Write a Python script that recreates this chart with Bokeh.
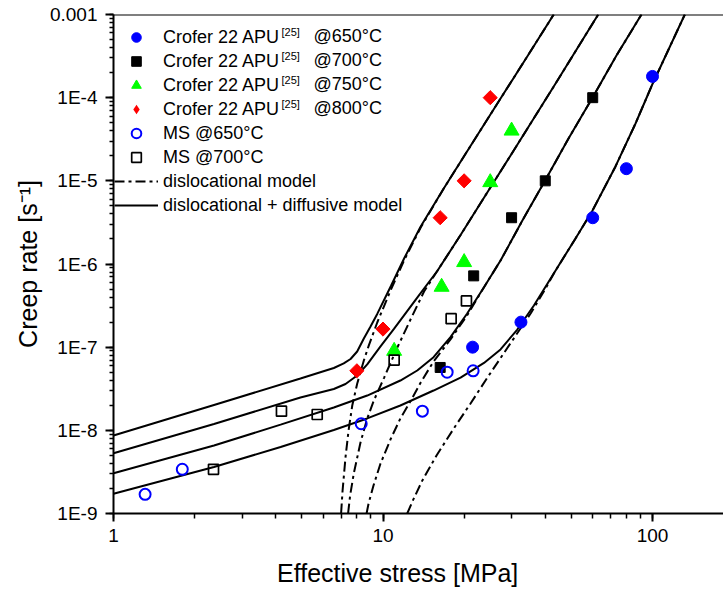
import math
from bokeh.plotting import figure
from bokeh.models import (Range1d, LogTicker, CustomJSTickFormatter,
                          Legend, LegendItem, Label, Span)
from bokeh.embed import file_html
from bokeh.resources import INLINE

FONT = "Liberation Sans"

# ---------------- measured data (stress [MPa], creep rate [1/s]) ----------------
crofer650_x = [21.5, 32.5, 60.0, 80.0, 100.0]
crofer650_y = [1.0e-7, 2.0e-7, 3.6e-6, 1.4e-5, 1.8e-4]
crofer700_x = [16.3, 21.7, 30.0, 40.0, 60.0]
crofer700_y = [5.7e-8, 7.2e-7, 3.6e-6, 1.0e-5, 1.0e-4]
crofer750_x = [11.0, 16.5, 20.0, 25.0, 30.0]
crofer750_y = [9.0e-8, 5.3e-7, 1.05e-6, 9.6e-6, 4.0e-5]
crofer800_x = [8.0, 10.0, 16.3, 20.0, 25.0]
crofer800_y = [5.2e-8, 1.65e-7, 3.6e-6, 1.0e-5, 1.0e-4]
ms650_x = [1.31, 1.8, 8.3, 14.0, 17.3, 21.6]
ms650_y = [1.7e-9, 3.4e-9, 1.2e-8, 1.7e-8, 5.0e-8, 5.2e-8]
ms700_x = [2.35, 4.2, 5.7, 11.0, 17.9, 20.4]
ms700_y = [3.4e-9, 1.7e-8, 1.55e-8, 7.0e-8, 2.2e-7, 3.6e-7]

# ---------------- model curves ----------------
# dislocational + diffusive model (solid)
s650_x = [1.0, 2.36, 4.17, 6.57, 8.74, 11.6, 15.4, 19.4, 23.7, 27.3, 31.5, 36.3,
          43.7, 51.8, 59.9, 72.9, 86.5, 99.8, 114.7, 131.8]
s650_y = [1.73e-9, 3.62e-9, 6.31e-9, 1.01e-8, 1.39e-8, 1.99e-8, 3.01e-8, 4.31e-8,
          6.46e-8, 9.4e-8, 1.63e-7, 3.17e-7, 8.36e-7, 2.03e-6, 4.40e-6, 1.49e-5,
          4.89e-5, 1.44e-4, 3.79e-4, 1.0e-3]
s700_x = [1.0, 2.36, 4.17, 6.57, 8.74, 11.6, 13.4, 15.4, 17.8, 20.5, 23.7, 27.3,
          32.9, 39.9, 48.8, 60.0, 73.5, 91.0]
s700_y = [3.05e-9, 6.58e-9, 1.17e-8, 1.88e-8, 2.62e-8, 3.97e-8, 5.24e-8, 7.57e-8,
          1.32e-7, 2.52e-7, 5.26e-7, 1.10e-6, 3.33e-6, 1.0e-5, 3.23e-5, 1.01e-4,
          3.21e-4, 1.0e-3]
s750_x = [1.0, 2.36, 4.94, 6.57, 7.26, 8.02, 8.74, 9.79, 11.0, 13.4, 15.9, 19.4,
          24.9, 32.4, 43.0, 62.9]
s750_y = [5.31e-9, 1.19e-8, 2.48e-8, 3.14e-8, 3.61e-8, 4.56e-8, 6.20e-8, 1.02e-7,
          1.67e-7, 3.95e-7, 8.24e-7, 2.23e-6, 8.09e-6, 3.14e-5, 1.36e-4, 1.0e-3]
s800_x = [1.0, 2.36, 4.94, 6.57, 7.15, 7.58, 8.02, 8.49, 8.99, 9.52, 10.7, 12.0,
          13.8, 16.8, 20.5, 27.3, 34.3, 43.0]
s800_y = [8.67e-9, 2.02e-8, 4.20e-8, 5.62e-8, 6.37e-8, 7.21e-8, 8.87e-8, 1.27e-7,
          1.77e-7, 2.51e-7, 5.43e-7, 1.18e-6, 2.82e-6, 8.09e-6, 2.25e-5, 9.77e-5,
          3.13e-4, 1.0e-3]
# dislocational model (dash-dot)
d650_x = [12.3, 12.9, 14.0, 15.8, 18.3, 21.1, 24.4, 29.7, 35.3, 40.1, 43.7, 51.8,
          59.9, 72.9, 86.5, 99.8, 114.7, 131.8]
d650_y = [1.0e-9, 1.43e-9, 2.50e-9, 4.98e-9, 1.05e-8, 2.09e-8, 4.31e-8, 1.11e-7,
          2.54e-7, 5.07e-7, 8.36e-7, 2.03e-6, 4.40e-6, 1.49e-5, 4.89e-5, 1.44e-4,
          3.79e-4, 1.0e-3]
d700_x = [8.69, 8.84, 9.22, 9.79, 10.7, 11.6, 12.7, 13.8, 15.4, 17.8, 20.5, 23.7,
          27.3, 32.9, 39.9, 48.8, 60.0, 73.5, 91.0]
d700_y = [1.0e-9, 1.32e-9, 2.17e-9, 3.99e-9, 7.98e-9, 1.39e-8, 2.29e-8, 3.76e-8,
          6.73e-8, 1.24e-7, 2.40e-7, 5.26e-7, 1.10e-6, 3.33e-6, 1.0e-5, 3.23e-5,
          1.01e-4, 3.21e-4, 1.0e-3]
d750_x = [7.42, 7.55, 7.79, 8.25, 8.74, 9.25, 10.1, 11.3, 12.7, 14.2, 15.9, 19.4,
          24.9, 32.4, 43.0, 62.9]
d750_y = [1.0e-9, 1.64e-9, 3.03e-9, 7.14e-9, 1.39e-8, 2.29e-8, 4.31e-8, 9.9e-8,
          2.21e-7, 4.67e-7, 8.24e-7, 2.23e-6, 8.09e-6, 3.14e-5, 1.36e-4, 1.0e-3]
d800_x = [6.99, 7.08, 7.26, 7.45, 7.69, 8.02, 8.49, 8.86, 9.52, 10.7, 12.0, 13.8,
          16.8, 20.5, 27.3, 34.3, 43.0]
d800_y = [1.0e-9, 1.89e-9, 4.75e-9, 9.96e-9, 1.99e-8, 3.63e-8, 6.92e-8, 1.05e-7,
          1.98e-7, 4.93e-7, 1.12e-6, 2.75e-6, 8.09e-6, 2.25e-5, 9.77e-5, 3.13e-4,
          1.0e-3]

# ---------------- texts ----------------
x_tick_exps = [0, 1, 2]
x_tick_labels = ["1", "10", "100"]
y_tick_exps = [-9, -8, -7, -6, -5, -4, -3]
y_tick_labels = ["1E-9", "1E-8", "1E-7", "1E-6", "1E-5", "1E-4", "0.001"]
temps = ["@650°C", "@700°C", "@750°C", "@800°C"]
crofer_name = "Crofer 22 APU"
ref_tag = "[25]"
ms_labels = ["MS @650°C", "MS @700°C"]
model_labels = ["dislocational model", "dislocational + diffusive model"]
x_title = "Effective stress [MPa]"
y_title = "Creep rate [s\u207b\u00b9]"

# ---------------- layout ----------------
W, H = 723, 591
FRAME_L, FRAME_T, FRAME_B = 113, 14, 513
FRAME_W, FRAME_H = W - FRAME_L, FRAME_B - FRAME_T
X_START, X_END = 1.0, 10 ** (FRAME_W / 269.5)
Y_START, Y_END = 1e-9, 1e-3


def px_to_x(px):
    return X_START * 10 ** ((px - FRAME_L) / FRAME_W * math.log10(X_END / X_START))


def py_to_y(py):
    return Y_START * 10 ** ((FRAME_B - py) / FRAME_H * math.log10(Y_END / Y_START))


p = figure(width=W, height=H, x_axis_type="log", y_axis_type="log",
           x_range=Range1d(X_START, X_END), y_range=Range1d(Y_START, Y_END),
           output_backend="svg", toolbar_location=None,
           min_border_left=FRAME_L, min_border_right=0, min_border_top=FRAME_T,
           min_border_bottom=H - FRAME_B)
p.outline_line_color = None
p.xgrid.visible = False
p.ygrid.visible = False
p.background_fill_color = "white"
p.border_fill_color = "white"

xa = p.xaxis[0]
ya = p.yaxis[0]
xa.ticker = LogTicker(desired_num_ticks=3, num_minor_ticks=10)
ya.ticker = LogTicker(desired_num_ticks=8, num_minor_ticks=10)
xa.formatter = CustomJSTickFormatter(
    args=dict(exps=x_tick_exps, labels=x_tick_labels),
    code="const e = Math.round(Math.log10(tick)); const i = exps.indexOf(e); return i >= 0 ? labels[i] : '';")
ya.formatter = CustomJSTickFormatter(
    args=dict(exps=y_tick_exps, labels=y_tick_labels),
    code="const e = Math.round(Math.log10(tick)); const i = exps.indexOf(e); return i >= 0 ? labels[i] : '';")

for ax in (xa, ya):
    ax.axis_line_width = 2
    ax.axis_line_color = "black"
    ax.major_tick_line_width = 2
    ax.minor_tick_line_width = 1.5
    ax.major_tick_line_color = "black"
    ax.minor_tick_line_color = "black"
    ax.major_tick_out = 8
    ax.major_tick_in = 0
    ax.minor_tick_in = 0
    ax.major_label_text_font = FONT
    ax.major_label_text_font_size = "19px"
    ax.major_label_text_color = "black"
    ax.axis_label_text_font = FONT
    ax.axis_label_text_font_size = "25px"
    ax.axis_label_text_font_style = "normal"
    ax.axis_label_text_color = "black"
xa.minor_tick_out = 5
ya.minor_tick_out = 4
xa.major_label_standoff = 7
ya.major_label_standoff = 8

ya.axis_label = y_title
ya.axis_label_standoff = 5
# the title sits left of the frame centre in the original: pad it on the right
xa.axis_label = x_title + "\u00a0" * 6
xa.axis_label_standoff = 14

# top border line of the frame
p.add_layout(Span(location=Y_END, dimension="width", line_color="black", line_width=2))

# ---------------- curves ----------------
DASHDOT = "10 4 3 4"
solid_r = []
for xs, ys in ((s650_x, s650_y), (s700_x, s700_y), (s750_x, s750_y), (s800_x, s800_y)):
    solid_r.append(p.line(xs, ys, line_color="black", line_width=2))
dash_r = []
for xs, ys in ((d650_x, d650_y), (d700_x, d700_y), (d750_x, d750_y), (d800_x, d800_y)):
    dash_r.append(p.line(xs, ys, line_color="black", line_width=2, line_dash=DASHDOT))

# ---------------- markers ----------------
r650 = p.scatter(crofer650_x, crofer650_y, marker="circle", size=12,
                 fill_color="#0000ff", line_color="#0000ff")
r700 = p.scatter(crofer700_x, crofer700_y, marker="square", size=10,
                 fill_color="black", line_color="black")
r750 = p.scatter(crofer750_x, crofer750_y, marker="triangle", size=15,
                 fill_color="#00ff00", line_color="#00ff00")
r800 = p.scatter(crofer800_x, crofer800_y, marker="square", angle=math.pi / 4, size=10,
                 fill_color="#ff0000", line_color="#ff0000")
rms650 = p.scatter(ms650_x, ms650_y, marker="circle", size=11, fill_color=None,
                   line_color="#0000ff", line_width=2)
rms700 = p.scatter(ms700_x, ms700_y, marker="square", size=10, fill_color=None,
                   line_color="black", line_width=1.7)

# legend key for the diamonds (legend glyphs are drawn unrotated); zero size in the plot
r800_key = p.scatter(crofer800_x, crofer800_y, marker="diamond", size=0,
                     fill_color="#ff0000", line_color=None)

items = [
    LegendItem(label=crofer_name, renderers=[r650]),
    LegendItem(label=crofer_name, renderers=[r700]),
    LegendItem(label=crofer_name, renderers=[r750]),
    LegendItem(label=crofer_name, renderers=[r800_key]),
    LegendItem(label=ms_labels[0], renderers=[rms650]),
    LegendItem(label=ms_labels[1], renderers=[rms700]),
    LegendItem(label=model_labels[0], renderers=[dash_r[0]]),
    LegendItem(label=model_labels[1], renderers=[solid_r[0]]),
]
legend = Legend(items=items, location=(1, 296), margin=0, padding=0, spacing=0,
                glyph_width=44, glyph_height=24, label_height=24, label_standoff=5,
                label_text_font=FONT, label_text_font_size="18px",
                label_text_color="black",
                background_fill_alpha=0, border_line_alpha=0)
p.add_layout(legend)

ROW0, ROW_STEP = 35, 24
for i, t in enumerate(temps):
    cy = ROW0 + ROW_STEP * i
    p.add_layout(Label(x=px_to_x(281), y=py_to_y(cy - 10), text=ref_tag, text_align="left",
                       text_baseline="top", text_font=FONT, text_font_size="11px",
                       text_color="black"))
    p.add_layout(Label(x=px_to_x(313), y=py_to_y(cy), text=t, text_align="left",
                       text_baseline="middle", text_font=FONT, text_font_size="18px",
                       text_color="black"))

open("out.html", "w").write(file_html(p, INLINE))
